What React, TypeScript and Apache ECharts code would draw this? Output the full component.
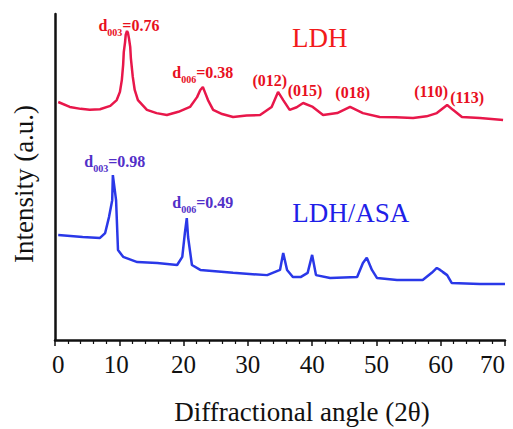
import React, { useEffect, useRef } from "react";
import * as echarts from "echarts";

const FONT = "Liberation Serif";

const xTicks = [0, 10, 20, 30, 40, 50, 60, 70];
const NB = "\u00a0";
const xTickText: Record<number, string> = { 0: NB + "0", 10: "10" + NB };

// LDH pattern: [2θ, intensity]
const ldhTheta = [0.5, 2.3, 4.0, 5.4, 7.0, 8.6, 9.6, 10.1, 10.4, 10.6, 10.7, 10.9, 11.0, 11.2, 11.35, 11.5, 11.7, 11.8, 12.1, 12.4, 12.9, 14.3, 15.8, 17.4, 19.2, 21.0, 22.1, 22.6, 23.0, 23.3, 23.8, 24.6, 26.0, 27.7, 29.8, 31.9, 33.7, 34.7, 35.5, 36.5, 37.6, 38.6, 40.1, 41.7, 43.9, 45.9, 47.9, 50.5, 53.0, 55.7, 57.8, 59.4, 61.0, 61.9, 63.3, 66.1, 69.7];
const ldhValues = [73.0, 71.5, 70.9, 70.6, 70.8, 71.8, 73.6, 76.1, 79.8, 84.4, 88.3, 91.4, 93.6, 94.8, 94.2, 92.6, 89.9, 86.5, 80.7, 76.7, 73.6, 70.6, 69.6, 69.0, 70.0, 71.5, 74.5, 76.7, 77.6, 76.1, 73.6, 70.6, 69.3, 68.4, 68.9, 69.0, 71.5, 76.1, 73.6, 70.6, 71.4, 72.7, 71.5, 69.0, 69.6, 71.5, 69.6, 68.4, 68.3, 68.1, 68.6, 69.6, 72.1, 70.6, 68.4, 68.1, 67.5];

// LDH/ASA pattern: [2θ, intensity]
const asaTheta = [0.5, 4.3, 7.0, 7.8, 8.4, 8.9, 9.0, 9.5, 9.8, 10.6, 12.8, 15.9, 19.0, 19.8, 20.2, 20.5, 20.7, 21.3, 22.6, 27.7, 33.0, 35.0, 35.5, 36.1, 37.0, 38.2, 39.3, 40.0, 40.6, 42.8, 47.0, 47.9, 48.5, 49.3, 50.1, 53.2, 57.2, 58.6, 59.4, 59.9, 60.3, 61.0, 61.7, 66.1, 70.0];
const asaValues = [32.2, 31.6, 31.3, 32.8, 37.7, 42.9, 50.6, 42.9, 27.6, 25.5, 23.9, 23.6, 23.0, 25.5, 32.8, 37.4, 31.6, 23.0, 21.5, 20.6, 19.9, 21.5, 26.7, 21.5, 19.3, 19.3, 20.6, 26.1, 19.9, 19.0, 19.3, 23.6, 25.2, 21.5, 19.0, 18.4, 18.4, 20.6, 22.1, 21.5, 20.9, 19.9, 17.5, 17.2, 17.2];

// annotations: [2θ, intensity, text]
const ldhNotes: [number, number, string][] = [
  [11.5, 96.3, "{b|d}{s|003}{b|=0.76}"],
  [23.0, 81.6, "{b|d}{s|006}{b|=0.38}"],
  [33.4, 79.4, "{b|(012)}"],
  [38.9, 76.1, "{b|(015)}"],
  [46.3, 75.5, "{b|(018)}"],
  [58.5, 75.8, "{b|(110)}"],
  [64.1, 74.2, "{b|(113)}"],
  [41.2, 92.6, "{n|LDH}"],
];
const asaNotes: [number, number, string][] = [
  [9.3, 54.6, "{b|d}{s|003}{b|=0.98}"],
  [23.0, 42.0, "{b|d}{s|006}{b|=0.49}"],
  [46.0, 39.0, "{n|LDH/ASA}"],
];

const rich = (c: string, big: string) => ({
  b: { fontFamily: FONT, fontWeight: "bold", fontSize: 16, color: c, lineHeight: 18, verticalAlign: "top" },
  s: { fontFamily: FONT, fontWeight: "bold", fontSize: 10, color: c, lineHeight: 10, padding: [10, 0, 0, 0], verticalAlign: "top" },
  n: { fontFamily: FONT, fontSize: 27, color: big, lineHeight: 28 },
});

export default function App() {
  const ref = useRef<HTMLDivElement>(null);
  useEffect(() => {
    document.body.style.margin = "0";
    const chart = echarts.init(ref.current!, null, { renderer: "svg" });
    const notes = (arr: [number, number, string][], c: string, big: string) => ({
      symbol: "circle",
      symbolSize: 1,
      itemStyle: { color: "rgba(0,0,0,0)" },
      silent: true,
      label: { show: true, position: "inside", fontFamily: FONT, color: c, textBorderWidth: 0, rich: rich(c, big) },
      data: arr.map(([x, y, t]) => ({ coord: [x, y], label: { formatter: t } })),
    });
    chart.setOption({
      animation: false,
      backgroundColor: "#ffffff",
      grid: { left: 55, right: 8, top: 14, bottom: 89, containLabel: false, outerBoundsMode: "none" },
      xAxis: {
        type: "value",
        min: 0,
        max: 70,
        interval: 10,
        name: "Diffractional angle (2θ)",
        nameLocation: "middle",
        nameGap: 58,
        nameTextStyle: { fontFamily: FONT, fontSize: 27, color: "#111", padding: [0, 0, 0, 44] },
        axisLine: { show: true, onZero: false, lineStyle: { color: "#111", width: 2.5 } },
        axisTick: { show: true, inside: false, length: 6, lineStyle: { color: "#111", width: 1.5 } },
        minorTick: { show: true, splitNumber: 5, length: 4, lineStyle: { color: "#111", width: 1.2 } },
        axisLabel: {
          fontFamily: FONT,
          fontSize: 25,
          color: "#111",
          margin: 12,
          alignMaxLabel: "right",
          formatter: (v: number) => (xTickText[v] !== undefined ? xTickText[v] : String(xTicks[xTicks.indexOf(v)] ?? v)),
        },
        splitLine: { show: false },
      },
      yAxis: {
        type: "value",
        min: 0,
        max: 100,
        name: "Intensity (a.u.)",
        nameLocation: "middle",
        nameGap: 18,
        nameTextStyle: { fontFamily: FONT, fontSize: 27, color: "#111", padding: [0, 14, 0, 0] },
        axisLine: { show: true, lineStyle: { color: "#111", width: 2.5 } },
        axisTick: { show: false },
        axisLabel: { show: false },
        splitLine: { show: false },
      },
      series: [
        {
          name: "LDH",
          type: "line",
          data: ldhTheta.map((x, i) => [x, ldhValues[i]]),
          showSymbol: false,
          lineStyle: { color: "#e8174a", width: 2.5 },
          markPoint: notes(ldhNotes, "#e8101e", "#f21a1a"),
        },
        {
          name: "LDH/ASA",
          type: "line",
          data: asaTheta.map((x, i) => [x, asaValues[i]]),
          showSymbol: false,
          lineStyle: { color: "#2a38e8", width: 2.5 },
          markPoint: notes(asaNotes, "#5230c8", "#1f1fe8"),
        },
      ],
    });
    return () => chart.dispose();
  }, []);
  return <div ref={ref} style={{ width: 513, height: 429 }} />;
}
